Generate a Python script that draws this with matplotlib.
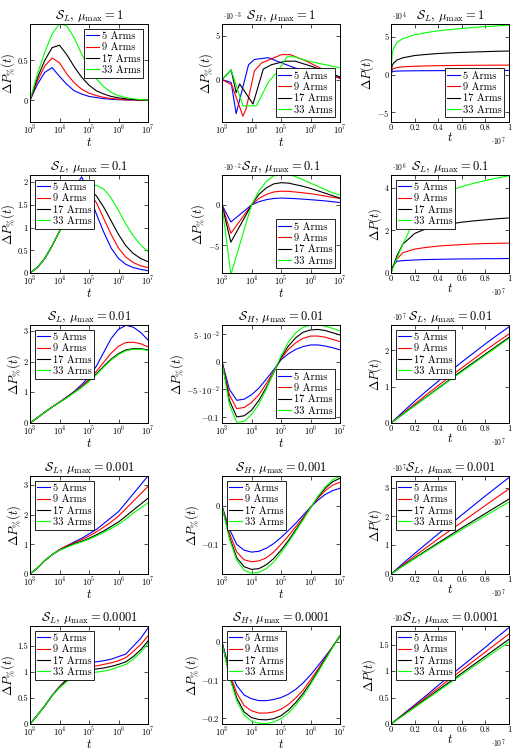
import numpy as np
import matplotlib
matplotlib.use("Agg")
import matplotlib.pyplot as plt
from matplotlib.ticker import FixedLocator, LogLocator, NullFormatter

plt.rcParams['mathtext.fontset'] = 'cm'
plt.rcParams['font.family'] = ['cmr10', 'DejaVu Serif']
plt.rcParams['axes.formatter.use_mathtext'] = True

SERIES = ['5 Arms', '9 Arms', '17 Arms', '33 Arms']
COLORS = ['#0000ff', '#ff0000', '#000000', '#00ff00']

# common log10(t) grid for log-x panels
LOGT = [3.0, 3.25, 3.5, 3.75, 4.0, 4.25, 4.5, 4.75, 5.0, 5.25, 5.5, 5.75, 6.0, 6.25, 6.5, 6.75, 7.0]
# linear t grids (units of 1e7)
TLIN_A = [0, 0.01, 0.02, 0.05, 0.1, 0.2, 0.3, 0.4, 0.5, 0.6, 0.7, 0.8, 0.9, 1.0]
TLIN_B = [0, 0.1, 0.2, 0.3, 0.4, 0.5, 0.6, 0.7, 0.8, 0.9, 1.0]

# ---- S_L, mu=1 (percent) ----
SL1_PCT = [
    [0, 0.2, 0.35, 0.41, 0.30, 0.2, 0.12, 0.08, 0.05, 0.035, 0.022, 0.014, 0.009, 0.006, 0.004, 0.002, 0.001],
    [0, 0.24, 0.43, 0.53, 0.47, 0.33, 0.22, 0.14, 0.09, 0.06, 0.038, 0.024, 0.015, 0.009, 0.006, 0.003, 0.002],
    [0, 0.28, 0.5, 0.66, 0.69, 0.57, 0.42, 0.29, 0.19, 0.12, 0.08, 0.05, 0.032, 0.02, 0.012, 0.007, 0.004],
    [0, 0.33, 0.6, 0.83, 0.96, 0.93, 0.78, 0.58, 0.40, 0.27, 0.17, 0.1, 0.06, 0.035, 0.02, 0.01, 0.005],
]
# ---- S_H, mu=1 (x1e-3), irregular grid ----
SH1_LOGT = [
    [3.0, 3.31, 3.48, 3.9, 4.1, 4.57, 5.02, 5.5, 6.0, 6.5, 7.0],
    [3.0, 3.33, 3.71, 3.82, 4.1, 4.34, 5.02, 5.31, 5.8, 6.4, 7.0],
    [3.0, 3.31, 3.48, 3.6, 4.05, 4.4, 4.68, 5.14, 5.48, 6.05, 7.0],
    [3.0, 3.31, 3.71, 4.17, 4.57, 4.9, 5.2, 5.45, 5.94, 6.5, 7.0],
]
SH1_VAL = [
    [0, -0.34, -3.9, 1.7, 2.3, 2.5, 1.9, 1.3, 0.9, 0.55, 0.2],
    [0, -0.6, -4.2, -3.3, 1.0, 1.9, 2.85, 2.85, 2.2, 1.2, 0.1],
    [0, 1.1, -1.5, -0.5, -2.8, 1.2, 1.7, 2.1, 2.1, 1.5, 0.3],
    [0, 1.1, -3.0, -3.0, -0.3, 1.0, 2.6, 2.6, 2.1, 1.7, 1.35],
]
# ---- S_L, mu=1 absolute (x1e4) ----
SL1_ABS = [
    [0, 0.4, 0.45, 0.48, 0.5, 0.52, 0.53, 0.54, 0.55, 0.55, 0.56, 0.56, 0.57, 0.57],
    [0, 0.7, 0.8, 0.95, 1.05, 1.12, 1.17, 1.2, 1.22, 1.24, 1.25, 1.26, 1.27, 1.28],
    [0, 1.2, 1.5, 1.95, 2.25, 2.55, 2.7, 2.82, 2.9, 2.97, 3.02, 3.07, 3.12, 3.15],
    [0, 2.8, 3.4, 4.3, 4.8, 5.3, 5.6, 5.85, 6.0, 6.15, 6.3, 6.4, 6.5, 6.6],
]
# ---- S_L, mu=0.1 (percent) ----
SL01_PCT = [
    [0, 0.12, 0.32, 0.6, 0.92, 1.32, 1.85, 2.12, 1.75, 1.3, 0.9, 0.55, 0.32, 0.19, 0.12, 0.08, 0.05],
    [0, 0.12, 0.32, 0.6, 0.92, 1.3, 1.68, 1.88, 1.8, 1.55, 1.2, 0.85, 0.55, 0.35, 0.23, 0.16, 0.12],
    [0, 0.12, 0.32, 0.6, 0.92, 1.3, 1.68, 1.88, 1.85, 1.7, 1.45, 1.15, 0.85, 0.6, 0.43, 0.32, 0.25],
    [0, 0.12, 0.32, 0.6, 0.92, 1.3, 1.68, 1.9, 1.94, 1.93, 1.85, 1.65, 1.38, 1.08, 0.82, 0.62, 0.47],
]
# ---- S_H, mu=0.1 (x1e-2) ----
SH01_LOGT = [3.0, 3.3, 4.0, 4.25, 4.5, 4.75, 5.0, 5.25, 5.5, 5.75, 6.0, 6.25, 6.5, 6.75, 7.0]
SH01_VAL = [
    [0, -2.1, 0, 0.4, 0.65, 0.8, 0.85, 0.82, 0.78, 0.72, 0.65, 0.58, 0.5, 0.4, 0.3],
    [0, -3.5, 0, 0.8, 1.3, 1.6, 1.7, 1.68, 1.6, 1.5, 1.4, 1.25, 1.1, 0.95, 0.8],
    [0, -4.6, 0, 1.3, 2.1, 2.6, 2.75, 2.7, 2.5, 2.3, 2.05, 1.75, 1.45, 1.15, 0.85],
    [0, -8.6, 0, 1.7, 2.9, 3.6, 3.9, 3.8, 3.5, 3.1, 2.7, 2.3, 1.9, 1.5, 1.2],
]
# ---- S_L, mu=0.1 absolute (x1e6) ----
SL01_ABS = [
    [0, 0.2, 0.35, 0.55, 0.58, 0.61, 0.63, 0.64, 0.65, 0.66, 0.66, 0.67, 0.67, 0.68],
    [0, 0.18, 0.35, 0.65, 0.95, 1.12, 1.2, 1.26, 1.3, 1.33, 1.36, 1.38, 1.39, 1.4],
    [0, 0.17, 0.33, 0.8, 1.35, 1.85, 2.08, 2.2, 2.3, 2.38, 2.44, 2.49, 2.54, 2.58],
    [0, 0.14, 0.28, 0.68, 1.35, 2.5, 3.15, 3.55, 3.85, 4.05, 4.2, 4.33, 4.45, 4.55],
]
# ---- S_L, mu=0.01 (percent) ----
SL001_PCT = [
    [0, 0.17, 0.35, 0.52, 0.68, 0.85, 1.03, 1.25, 1.5, 1.85, 2.3, 2.75, 3.05, 3.18, 3.12, 2.95, 2.7],
    [0, 0.17, 0.35, 0.52, 0.68, 0.84, 1.01, 1.2, 1.42, 1.68, 1.98, 2.27, 2.5, 2.62, 2.63, 2.58, 2.48],
    [0, 0.17, 0.35, 0.52, 0.67, 0.83, 1.0, 1.17, 1.37, 1.6, 1.85, 2.08, 2.26, 2.38, 2.42, 2.42, 2.38],
    [0, 0.17, 0.35, 0.52, 0.67, 0.82, 0.99, 1.16, 1.35, 1.57, 1.82, 2.05, 2.23, 2.35, 2.4, 2.4, 2.36],
]
# ---- S_H, mu=0.01 (percent) ----
SH001_PCT = [
    [0, -0.05, -0.07, -0.068, -0.06, -0.048, -0.032, -0.015, 0.003, 0.014, 0.022, 0.027, 0.03, 0.03, 0.028, 0.025, 0.021],
    [0, -0.06, -0.085, -0.083, -0.074, -0.06, -0.04, -0.018, 0.005, 0.022, 0.034, 0.042, 0.046, 0.046, 0.044, 0.04, 0.036],
    [0, -0.07, -0.1, -0.098, -0.088, -0.07, -0.047, -0.02, 0.007, 0.028, 0.043, 0.053, 0.057, 0.058, 0.056, 0.052, 0.048],
    [0, -0.078, -0.11, -0.108, -0.096, -0.077, -0.05, -0.02, 0.01, 0.035, 0.052, 0.062, 0.066, 0.066, 0.064, 0.06, 0.055],
]
# ---- S_L, mu=0.01 absolute (x1e7) ----
SL001_ABS = [
    [0, 0.3, 0.6, 0.88, 1.15, 1.42, 1.68, 1.93, 2.18, 2.42, 2.65],
    [0, 0.26, 0.52, 0.78, 1.03, 1.28, 1.52, 1.76, 2.0, 2.23, 2.45],
    [0, 0.24, 0.48, 0.72, 0.96, 1.2, 1.44, 1.67, 1.9, 2.13, 2.36],
    [0, 0.236, 0.472, 0.71, 0.945, 1.18, 1.41, 1.64, 1.87, 2.1, 2.33],
]
# ---- S_L, mu=0.001 (percent) ----
SL0001_PCT = [
    [0, 0.2, 0.45, 0.65, 0.82, 0.95, 1.08, 1.2, 1.35, 1.5, 1.7, 1.9, 2.1, 2.4, 2.7, 3.0, 3.3],
    [0, 0.2, 0.45, 0.65, 0.82, 0.95, 1.05, 1.15, 1.28, 1.42, 1.58, 1.75, 1.95, 2.2, 2.45, 2.7, 2.95],
    [0, 0.2, 0.45, 0.65, 0.8, 0.92, 1.02, 1.1, 1.2, 1.32, 1.45, 1.6, 1.75, 1.95, 2.15, 2.35, 2.55],
    [0, 0.2, 0.45, 0.65, 0.8, 0.9, 1.0, 1.08, 1.17, 1.28, 1.4, 1.53, 1.67, 1.85, 2.05, 2.22, 2.4],
]
# ---- S_H, mu=0.001 (percent) ----
SH0001_PCT = [
    [0, -0.06, -0.1, -0.115, -0.12, -0.118, -0.11, -0.098, -0.082, -0.064, -0.045, -0.024, -0.003, 0.015, 0.03, 0.04, 0.046],
    [0, -0.07, -0.12, -0.14, -0.145, -0.143, -0.135, -0.12, -0.1, -0.078, -0.054, -0.03, -0.004, 0.02, 0.04, 0.054, 0.062],
    [0, -0.08, -0.135, -0.158, -0.165, -0.163, -0.153, -0.137, -0.115, -0.09, -0.062, -0.034, -0.005, 0.023, 0.046, 0.063, 0.072],
    [0, -0.085, -0.142, -0.167, -0.175, -0.173, -0.163, -0.146, -0.122, -0.095, -0.066, -0.036, -0.005, 0.025, 0.05, 0.068, 0.077],
]
# ---- S_L, mu=0.001 absolute (x1e7) ----
SL0001_ABS = [
    [0, 0.36, 0.71, 1.05, 1.39, 1.72, 2.05, 2.38, 2.71, 3.03, 3.35],
    [0, 0.31, 0.62, 0.92, 1.22, 1.51, 1.8, 2.09, 2.38, 2.67, 2.95],
    [0, 0.28, 0.55, 0.82, 1.08, 1.34, 1.6, 1.85, 2.1, 2.35, 2.6],
    [0, 0.27, 0.53, 0.79, 1.04, 1.29, 1.54, 1.78, 2.02, 2.26, 2.5],
]
# ---- S_L, mu=0.0001 (percent) ----
SL00001_PCT = [
    [0, 0.17, 0.35, 0.55, 0.72, 0.87, 1.0, 1.1, 1.18, 1.2, 1.22, 1.25, 1.3, 1.35, 1.5, 1.65, 1.85],
    [0, 0.17, 0.35, 0.55, 0.72, 0.85, 0.96, 1.04, 1.1, 1.12, 1.15, 1.18, 1.22, 1.28, 1.4, 1.53, 1.7],
    [0, 0.17, 0.35, 0.55, 0.71, 0.84, 0.94, 1.0, 1.05, 1.06, 1.08, 1.11, 1.15, 1.2, 1.3, 1.43, 1.6],
    [0, 0.17, 0.35, 0.55, 0.7, 0.82, 0.91, 0.96, 0.99, 1.0, 1.02, 1.05, 1.1, 1.15, 1.25, 1.38, 1.55],
]
# ---- S_H, mu=0.0001 (percent) ----
SH00001_PCT = [
    [0, -0.07, -0.115, -0.14, -0.15, -0.155, -0.155, -0.152, -0.147, -0.138, -0.125, -0.108, -0.087, -0.063, -0.038, -0.012, 0.015],
    [0, -0.08, -0.135, -0.168, -0.182, -0.188, -0.188, -0.185, -0.178, -0.165, -0.148, -0.127, -0.1, -0.072, -0.042, -0.012, 0.017],
    [0, -0.088, -0.148, -0.185, -0.2, -0.205, -0.206, -0.203, -0.195, -0.18, -0.16, -0.136, -0.108, -0.077, -0.045, -0.013, 0.018],
    [0, -0.092, -0.155, -0.193, -0.21, -0.215, -0.216, -0.212, -0.203, -0.188, -0.167, -0.142, -0.112, -0.08, -0.047, -0.014, 0.018],
]
# ---- S_L, mu=0.0001 absolute (x1e7) ----
SL00001_ABS = [
    [0, 0.18, 0.36, 0.54, 0.73, 0.91, 1.09, 1.27, 1.45, 1.64, 1.82],
    [0, 0.17, 0.34, 0.51, 0.68, 0.85, 1.02, 1.19, 1.36, 1.53, 1.7],
    [0, 0.16, 0.32, 0.48, 0.64, 0.8, 0.96, 1.12, 1.28, 1.44, 1.6],
    [0, 0.155, 0.31, 0.465, 0.62, 0.775, 0.93, 1.085, 1.24, 1.395, 1.55],
]

TITLES_MU = ['1', '0.1', '0.01', '0.001', '0.0001']

W, H = 513, 749
fig = plt.figure(figsize=(W / 100, H / 100), dpi=100)

COL_LEFT = [30, 222, 391]
AX_W = 118
ROW_TOP = [24, 175, 325, 476, 626]
AX_H = 98

def make_ax(r, c):
    l = COL_LEFT[c] / W
    b = 1 - (ROW_TOP[r] + AX_H) / H
    return fig.add_axes([l, b, AX_W / W, AX_H / H])

def style(ax):
    ax.tick_params(which='both', direction='in', top=True, right=True, labelsize=6, pad=1.5)
    ax.tick_params(which='major', length=3, width=0.5)
    ax.tick_params(which='minor', length=1.6, width=0.4)
    for s in ax.spines.values():
        s.set_linewidth(0.7)

def log_axis(ax):
    ax.set_xscale('log')
    ax.set_xlim(1e3, 1e7)
    ax.xaxis.set_major_locator(FixedLocator([1e3, 1e4, 1e5, 1e6, 1e7]))
    ax.xaxis.set_minor_locator(LogLocator(base=10, subs=np.arange(2, 10)))
    ax.xaxis.set_minor_formatter(NullFormatter())

def lin_axis(ax):
    ax.set_xlim(0, 1)
    ax.set_xticks([0, 0.2, 0.4, 0.6, 0.8, 1.0])
    ax.set_xticklabels(['0', '0.2', '0.4', '0.6', '0.8', '1'])
    ax.text(0.97, -0.2, r'$\cdot 10^{7}$', transform=ax.transAxes, fontsize=5.5, ha='right', va='center')

def set_yticks(ax, ticks, labels):
    ax.set_yticks(ticks)
    ax.set_yticklabels(labels)

def legend(ax, loc):
    ax.legend(loc=loc, fontsize=7.5, frameon=True, fancybox=False, edgecolor='black',
              framealpha=1, borderpad=0.25, labelspacing=0.18, handlelength=1.2,
              handletextpad=0.3, borderaxespad=0.45).get_frame().set_linewidth(0.6)

def offset(ax, s):
    ax.text(0.01, 1.012, s, transform=ax.transAxes, fontsize=5.5, ha='left', va='bottom')

def title(ax, kind, mu):
    ax.set_title(r'$\mathcal{S}_%s,\, \mu_{\max} = %s$' % (kind, mu), fontsize=9, pad=3)

LW = 0.8
tl = 10 ** np.array(LOGT)

def labels(ax, ylab):
    ax.set_ylabel(ylab, fontsize=9, labelpad=0.5)
    ax.set_xlabel(r'$t$', fontsize=9, labelpad=-1)

pct_L = [SL1_PCT, SL01_PCT, SL001_PCT, SL0001_PCT, SL00001_PCT]
pct_L_ylim = [(-0.27, 0.955), (0, 2.16), (0, 3.19), (0, 3.3), (0, 1.89)]
pct_L_ticks = [([0, 0.5], ['0', '0.5']),
               ([0, 0.5, 1, 1.5, 2], ['0', '0.5', '1', '1.5', '2']),
               ([0, 1, 2, 3], ['0', '1', '2', '3']),
               ([0, 1, 2, 3], ['0', '1', '2', '3']),
               ([0, 0.5, 1, 1.5], ['0', '0.5', '1', '1.5'])]
pct_L_leg = ['upper right', 'upper left', 'upper left', 'upper left', 'upper left']

for r in range(5):
    ax = make_ax(r, 0)
    for k in range(4):
        ax.plot(tl, pct_L[r][k], color=COLORS[k], lw=LW, label=SERIES[k])
    log_axis(ax)
    ax.set_ylim(*pct_L_ylim[r])
    set_yticks(ax, *pct_L_ticks[r])
    style(ax)
    legend(ax, pct_L_leg[r])
    title(ax, 'L', TITLES_MU[r])
    labels(ax, r'$\Delta P_{\%}(t)$')

# S_H column
for r in range(5):
    ax = make_ax(r, 1)
    if r == 0:
        for k in range(4):
            ax.plot(10 ** np.array(SH1_LOGT[k]), SH1_VAL[k], color=COLORS[k], lw=LW, label=SERIES[k])
        ax.set_ylim(-4.85, 6.35)
        set_yticks(ax, [0, 5], ['0', '5'])
        offset(ax, r'$\cdot 10^{-3}$')
        loc = 'lower right'
    elif r == 1:
        for k in range(4):
            ax.plot(10 ** np.array(SH01_LOGT), SH01_VAL[k], color=COLORS[k], lw=LW, label=SERIES[k])
        ax.set_ylim(-8.4, 3.7)
        set_yticks(ax, [-5, 0], [r'$-5$', '0'])
        offset(ax, r'$\cdot 10^{-2}$')
        loc = 'lower right'
    else:
        data = [SH001_PCT, SH0001_PCT, SH00001_PCT][r - 2]
        for k in range(4):
            ax.plot(tl, data[k], color=COLORS[k], lw=LW, label=SERIES[k])
        if r == 2:
            ax.set_ylim(-0.111, 0.066)
            set_yticks(ax, [-0.1, -0.05, 0, 0.05],
                       [r'$-0.1$', r'$-5\cdot10^{-2}$', '0', r'$5\cdot10^{-2}$'])
            loc = 'lower right'
        elif r == 3:
            ax.set_ylim(-0.177, 0.078)
            set_yticks(ax, [-0.1, 0], [r'$-0.1$', '0'])
            loc = 'upper left'
        else:
            ax.set_ylim(-0.217, 0.043)
            set_yticks(ax, [-0.2, -0.1, 0], [r'$-0.2$', r'$-0.1$', '0'])
            loc = 'upper left'
    log_axis(ax)
    style(ax)
    legend(ax, loc)
    title(ax, 'H', TITLES_MU[r])
    labels(ax, r'$\Delta P_{\%}(t)$')

# absolute column
abs_data = [SL1_ABS, SL01_ABS, SL001_ABS, SL0001_ABS, SL00001_ABS]
abs_t = [TLIN_A, TLIN_A, TLIN_B, TLIN_B, TLIN_B]
abs_ylim = [(-6.3, 6.75), (0, 4.59), (0, 2.7), (0, 3.4), (0, 1.85)]
abs_ticks = [([-5, 0, 5], [r'$-5$', '0', '5']),
             ([0, 2, 4], ['0', '2', '4']),
             ([0, 1, 2], ['0', '1', '2']),
             ([0, 1, 2, 3], ['0', '1', '2', '3']),
             ([0, 0.5, 1, 1.5], ['0', '0.5', '1', '1.5'])]
abs_off = [r'$\cdot 10^{4}$', r'$\cdot 10^{6}$', r'$\cdot 10^{7}$', r'$\cdot 10^{7}$', r'$\cdot 10^{7}$']
abs_leg = ['lower right', 'upper left', 'upper left', 'upper left', 'upper left']
for r in range(5):
    ax = make_ax(r, 2)
    for k in range(4):
        ax.plot(abs_t[r], abs_data[r][k], color=COLORS[k], lw=LW, label=SERIES[k])
    lin_axis(ax)
    ax.set_ylim(*abs_ylim[r])
    set_yticks(ax, *abs_ticks[r])
    style(ax)
    legend(ax, abs_leg[r])
    title(ax, 'L', TITLES_MU[r])
    offset(ax, abs_off[r])
    labels(ax, r'$\Delta P(t)$')

fig.savefig('out.png', dpi=100)
